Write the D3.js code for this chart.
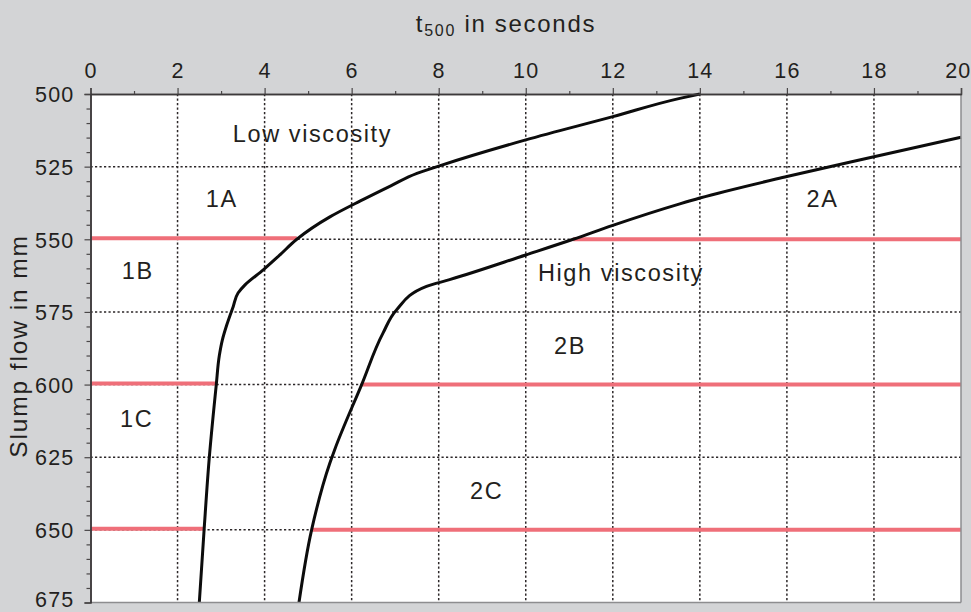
<!DOCTYPE html>
<html>
<head>
<meta charset="utf-8">
<script src="https://cdn.jsdelivr.net/npm/d3@7"></script>
<style>
  html, body { margin: 0; padding: 0; background: #d3d4d6; }
  svg { display: block; }
  text { font-family: "Liberation Sans", Arial, sans-serif; fill: #231f20; }
</style>
</head>
<body>
<svg id="chart" width="971" height="612"></svg>
<script>
// ---- data ----
const xTicks = [0, 2, 4, 6, 8, 10, 12, 14, 16, 18, 20];
const yTicks = [500, 525, 550, 575, 600, 625, 650, 675];

// Low viscosity boundary curve (t500 s, slump flow mm)
const lowT    = [2.50, 2.61, 2.73, 2.89, 2.96, 3.03, 3.13, 3.28, 3.39, 3.55, 3.97, 4.35, 4.74, 5.50, 6.20, 6.90, 7.50, 8.00, 10.00, 12.00, 13.54, 14.00];
const lowFlow = [675, 650, 625, 600, 590, 584.6, 579.5, 573.1, 568.5, 565.7, 560.5, 555.4, 550, 542.3, 536.8, 531.6, 527.3, 524.8, 515.8, 507.8, 501.5, 500];

// High viscosity boundary curve
const highT    = [4.79, 5.08, 5.50, 5.61, 6.23, 6.72, 7.03, 7.72, 8.25, 10.00, 11.09, 12.00, 13.54, 14.00, 16.00, 18.00, 20.00];
const highFlow = [675, 650, 627, 622.4, 600, 582.3, 574.3, 566.2, 563.9, 555.4, 550, 545.2, 537.8, 535.8, 528.4, 521.6, 514.9];

// Class limits (slump flow) and where they meet the two curves
const limitFlow  = [550, 600, 650];
const limitLowT  = [4.74, 2.91, 2.61];
const limitHighT = [11.09, 6.23, 5.08];

// Region labels
const regionNames = ["Low viscosity", "1A", "1B", "1C", "High viscosity", "2A", "2B", "2C"];
const regionT     = [3.27, 2.65, 0.72, 0.68, 10.28, 16.45, 10.65, 8.72];
const regionFlow  = [516.5, 538.8, 563.8, 614.5, 564.3, 538.8, 589.5, 639.5];

// ---- layout ----
const svg = d3.select("#chart");
const pL = 90.5, pR = 961, pT = 94, pB = 602.5;
const x = d3.scaleLinear().domain([0, 20]).range([pL, pR]);
const y = d3.scaleLinear().domain([500, 675]).range([pT, pB]);

// plot background
svg.append("rect").attr("x", pL).attr("y", pT)
  .attr("width", pR - pL).attr("height", pB - pT)
  .attr("fill", "#ffffff");

// grid
const grid = svg.append("g").attr("stroke", "#2c2728").attr("stroke-width", 1.5)
  .attr("stroke-dasharray", "2.2,2.3");
grid.selectAll("line.v").data(xTicks.filter(d => d > 0 && d < 20)).join("line").attr("class", "v")
  .attr("x1", d => x(d)).attr("x2", d => x(d)).attr("y1", pT).attr("y2", pB);
grid.selectAll("line.h").data(yTicks.filter(d => d > 500 && d < 675)).join("line").attr("class", "h")
  .attr("x1", pL).attr("x2", pR).attr("y1", d => y(d)).attr("y2", d => y(d));

// class limit lines (red)
const red = svg.append("g").attr("stroke", "#ef6f79").attr("stroke-width", 4);
limitFlow.forEach((f, i) => {
  red.append("line").attr("x1", x(0)).attr("x2", x(limitLowT[i])).attr("y1", y(f) - 1).attr("y2", y(f) - 1);
  red.append("line").attr("x1", x(limitHighT[i])).attr("x2", x(20)).attr("y1", y(f)).attr("y2", y(f));
});

// curves (points ordered by increasing slump flow for a monotone-in-y spline)
const lowPts = lowT.map((t, i) => [t, lowFlow[i]]).reverse();
const highPts = highT.map((t, i) => [t, highFlow[i]]).reverse();
const lineY = d3.line().x(d => x(d[0])).y(d => y(d[1])).curve(d3.curveMonotoneY);
[lowPts, highPts].forEach(p => {
  svg.append("path").attr("d", lineY(p)).attr("fill", "none")
    .attr("stroke", "#0c0c0c").attr("stroke-width", 3).attr("stroke-linejoin", "round");
});

// frame
svg.append("line").attr("x1", pR).attr("x2", pR).attr("y1", pT).attr("y2", pB)
  .attr("stroke", "#8d8d8f").attr("stroke-width", 1.5);
svg.append("line").attr("x1", pL).attr("x2", pR).attr("y1", pB).attr("y2", pB)
  .attr("stroke", "#8d8d8f").attr("stroke-width", 1.5);

// axes
const axTop = svg.append("g").attr("transform", `translate(0,${pT})`)
  .call(d3.axisTop(x).tickValues(xTicks).tickSize(6).tickPadding(10).tickFormat(d3.format("d")));
const axTopMinor = svg.append("g").attr("transform", `translate(0,${pT})`)
  .call(d3.axisTop(x).tickValues(d3.range(1, 20, 2)).tickSize(3).tickSizeOuter(0).tickFormat(""));
const axLeft = svg.append("g").attr("transform", `translate(${pL},0)`)
  .call(d3.axisLeft(y).tickValues(yTicks).tickSize(6).tickPadding(10).tickFormat(d3.format("d")));
const axLeftMinor = svg.append("g").attr("transform", `translate(${pL},0)`)
  .call(d3.axisLeft(y).tickValues(d3.range(505, 675, 5).filter(v => v % 25 !== 0)).tickSize(4).tickSizeOuter(0).tickFormat(""));
[axTop, axTopMinor, axLeft, axLeftMinor].forEach(a => {
  a.select(".domain").attr("stroke", "#3d3a3b").attr("stroke-width", 1.5);
  a.selectAll(".tick line").attr("stroke", "#4a4748").attr("stroke-width", 1.2);
  a.selectAll("text").attr("font-family", "Liberation Sans, Arial, sans-serif")
    .attr("font-size", 21.5).attr("letter-spacing", "1.2px").attr("fill", "#231f20");
});
axLeft.selectAll(".tick text").attr("dy", "0.36em");
axLeft.selectAll(".tick").filter(d => d === 675).select("text").attr("dy", "0.2em");
axTop.selectAll(".tick").filter(d => d === 20).select("text").attr("text-anchor", "end").attr("x", 10);

// titles
const title = svg.append("text").attr("x", 506).attr("y", 32).attr("text-anchor", "middle")
  .attr("font-size", 24).attr("letter-spacing", "1.7px");
title.append("tspan").text("t");
title.append("tspan").attr("font-size", 16).attr("dy", 4).text("500");
title.append("tspan").attr("dy", -4).text(" in seconds");

svg.append("text").attr("transform", "translate(27,346) rotate(-90)")
  .attr("text-anchor", "middle").attr("font-size", 24.5).attr("letter-spacing", "1.9px")
  .text("Slump flow in mm");

// region labels
svg.append("g").selectAll("text").data(regionNames).join("text")
  .attr("x", (d, i) => x(regionT[i])).attr("y", (d, i) => y(regionFlow[i]))
  .attr("font-size", 23.5).attr("letter-spacing", "1.6px")
  .text(d => d);
</script>
</body>
</html>
